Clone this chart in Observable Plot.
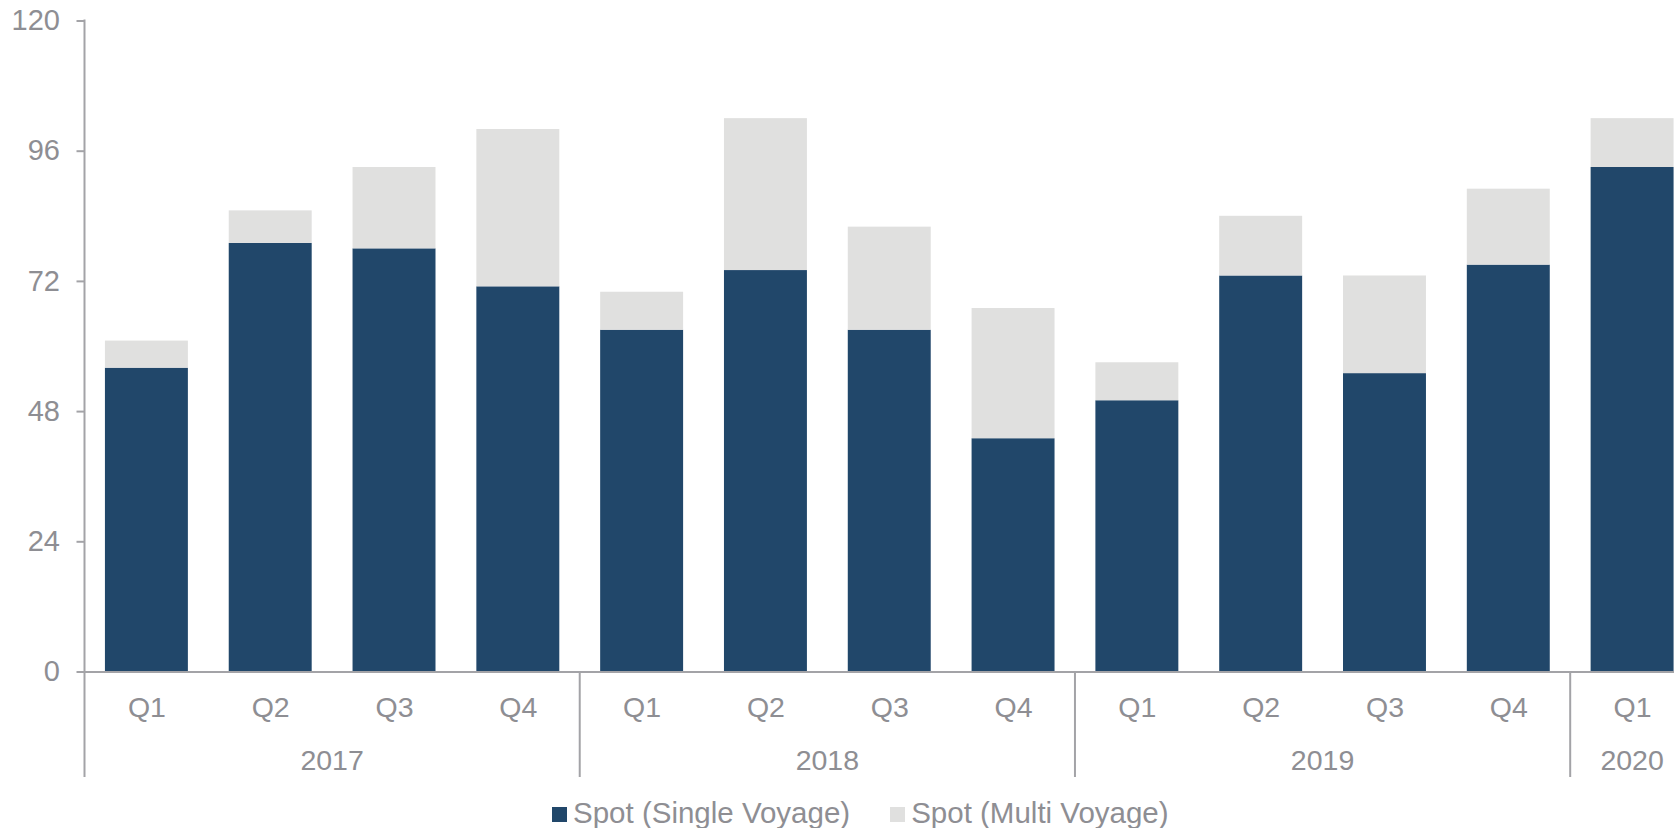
<!DOCTYPE html>
<html>
<head>
<meta charset="utf-8">
<script src="https://cdn.jsdelivr.net/npm/d3@7"></script>
<script src="https://cdn.jsdelivr.net/npm/@observablehq/plot@0.6"></script>
<style>
  html, body { margin: 0; padding: 0; background: #fff; overflow: hidden; }
  #chart { width: 1674px; }
  .legend { display: flex; align-items: center; height: 30px; margin-top: 23px; margin-left: 552px; font-family: "Liberation Sans", Arial, sans-serif; font-size: 29.5px; color: #8e8e93; }
  .legend .item { display: flex; align-items: center; }
  .legend .sw { width: 15px; height: 15px; margin-right: 6px; margin-top: 3px; }
  .legend .item + .item { margin-left: 40px; }
</style>
</head>
<body>
<div id="chart"></div>
<script>
const years    = ["2017", "2018", "2019", "2020"];
const yearOf   = ["2017","2017","2017","2017","2018","2018","2018","2018","2019","2019","2019","2019","2020"];
const quarters = ["Q1","Q2","Q3","Q4","Q1","Q2","Q3","Q4","Q1","Q2","Q3","Q4","Q1"];
const singleVoyage = [56, 79, 78, 71, 63, 74, 63, 43, 50, 73, 55, 75, 93];
const multiVoyage  = [ 5,  6, 15, 29,  7, 28, 19, 24,  7, 11, 18, 14,  9];
const yTicks = [0, 24, 48, 72, 96, 120];
const seriesNames = ["Spot (Single Voyage)", "Spot (Multi Voyage)"];
const seriesColors = ["#21476a", "#e0e0df"];

const keys = quarters.map((q, i) => yearOf[i] + " " + q);
const rows = [];
keys.forEach((k, i) => {
  rows.push({key: k, series: seriesNames[0], value: singleVoyage[i]});
  rows.push({key: k, series: seriesNames[1], value: multiVoyage[i]});
});

const W = 1674, H = 775;
const mLeft = 84.5, mTop = 20.5, baseY = 671.5;
const axisGray = "#a3a3a7";
const textGray = "#8e8e93";

const plot = Plot.plot({
  width: W,
  height: H,
  marginLeft: mLeft,
  marginRight: 0,
  marginTop: mTop,
  marginBottom: H - baseY,
  style: {fontFamily: "'Liberation Sans', Arial, sans-serif", fontSize: "29px", color: textGray, background: "#fff", overflow: "hidden"},
  x: {domain: keys, range: [mLeft, 1694], paddingInner: 0.33, paddingOuter: 0.165, round: false, axis: null},
  y: {domain: [0, 120], axis: null},
  color: {domain: seriesNames, range: seriesColors},
  marks: [
    Plot.barY(rows, Plot.stackY({x: "key", y: "value", fill: "series"})),
    Plot.ruleY([0], {stroke: axisGray, strokeWidth: 2}),
    Plot.axisY({ticks: yTicks, label: null, tickSize: 8, tickPadding: 17, fontSize: 29, stroke: axisGray, strokeWidth: 2, tickFormat: d => String(d)}),
    Plot.axisX({label: null, tickSize: 0, tickPadding: 25, fontSize: 28.5, tickFormat: d => d.split(" ")[1]})
  ]
});

// Axis line, group separators and year labels, placed through Plot's own scales
const xs = plot.scale("x");
const ys = plot.scale("y");
const svg = d3.select(plot).style("overflow", "visible");
const bottomY = 777;
const half = (xs.step - xs.bandwidth) / 2;
const g = svg.append("g");
g.append("line")
  .attr("x1", xs.range[0]).attr("x2", xs.range[0])
  .attr("y1", ys.apply(120) - 1).attr("y2", bottomY)
  .attr("stroke", axisGray).attr("stroke-width", 2);
years.forEach(y => {
  const idx = keys.map((k, i) => i).filter(i => yearOf[i] === y);
  const x0 = xs.apply(keys[idx[0]]) - half;
  const x1 = xs.apply(keys[idx[idx.length - 1]]) + xs.bandwidth + half;
  if (idx[0] > 0) {
    g.append("line")
      .attr("x1", x0).attr("x2", x0)
      .attr("y1", ys.apply(0)).attr("y2", bottomY)
      .attr("stroke", axisGray).attr("stroke-width", 2);
  }
  g.append("text")
    .attr("x", (x0 + x1) / 2).attr("y", 769.5)
    .attr("text-anchor", "middle")
    .attr("font-size", 28.5)
    .attr("fill", textGray)
    .text(y);
});

document.getElementById("chart").appendChild(plot);

const legend = d3.select("#chart").append("div").attr("class", "legend");
seriesNames.forEach((s, i) => {
  const it = legend.append("div").attr("class", "item");
  it.append("div").attr("class", "sw").style("background", seriesColors[i]);
  it.append("span").text(s);
});
</script>
</body>
</html>
